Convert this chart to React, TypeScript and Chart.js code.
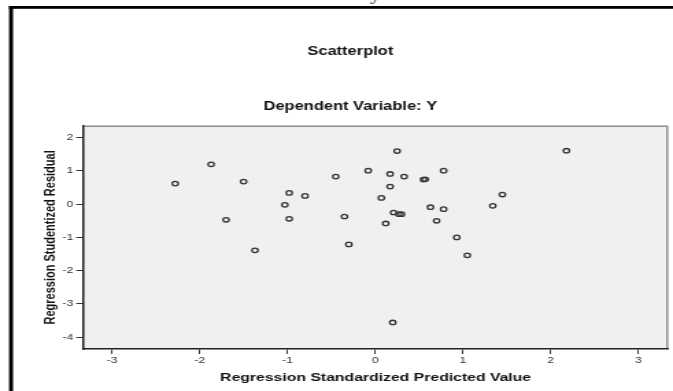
import React, { useEffect, useRef } from 'react';
import { Chart, registerables } from 'chart.js';

Chart.register(...registerables);

// ---- data ----
const predictedValues = [
  -2.28, -1.87, -1.5, -1.7, -1.37, -0.98, -0.8, -1.03, -0.98, -0.45, -0.35, -0.3,
  -0.08, 0.17, 0.17, 0.07, 0.12, 0.21, 0.25, 0.2, 0.33, 0.55, 0.57, 0.78, 0.27,
  0.3, 0.63, 0.78, 0.7, 0.93, 1.05, 1.34, 1.45, 2.18,
];
const residualValues = [
  0.62, 1.2, 0.68, -0.47, -1.39, 0.34, 0.25, -0.02, -0.44, 0.83, -0.37, -1.21,
  1.01, 0.91, 0.53, 0.19, -0.58, -0.25, 1.6, -3.56, 0.83, 0.74, 0.75, 1.01, -0.3,
  -0.3, -0.09, -0.15, -0.5, -1.0, -1.54, -0.05, 0.29, 1.61,
];
const xTicks = [-3, -2, -1, 0, 1, 2, 3];
const yTicks = [-4, -3, -2, -1, 0, 1, 2];
const headerText = 'Heteroscedasticity Test Results';
const titleText = 'Scatterplot';
const subtitleText = 'Dependent Variable: Y';
const xTitle = 'Regression Standardized Predicted Value';
const yTitle = 'Regression Studentized Residual';

// ---- layout ----
const W = 491; // internal width, stretched horizontally to 673 css px
const H = 391;
const FONT = '"Liberation Sans", Arial, sans-serif';

const framePlugin = {
  id: 'spssFrame',
  beforeDraw(chart: any) {
    const { ctx, chartArea: a } = chart;
    ctx.save();
    ctx.fillStyle = '#f0f0f0';
    ctx.fillRect(a.left, a.top, a.right - a.left, a.bottom - a.top);
    ctx.strokeStyle = '#8c8c8c';
    ctx.lineWidth = 1.4;
    ctx.beginPath();
    ctx.moveTo(a.left, a.top + 0.5);
    ctx.lineTo(a.right - 0.7, a.top + 0.5);
    ctx.lineTo(a.right - 0.7, a.bottom);
    ctx.stroke();
    // outer black frame
    ctx.fillStyle = '#000';
    ctx.fillRect(6.6, 6, W - 6.6, 2.8);
    ctx.fillRect(6.6, 6, 2.9, H - 6);
    // cut-off header above the frame (only its lowest pixels are visible)
    ctx.font = 'bold 16px "Liberation Serif", serif';
    ctx.textAlign = 'center';
    ctx.textBaseline = 'alphabetic';
    ctx.fillStyle = '#555';
    ctx.fillText(headerText, 258, -0.5);
    ctx.restore();
  },
};

export default function App() {
  const ref = useRef<HTMLCanvasElement | null>(null);

  useEffect(() => {
    if (!ref.current) return;
    const points = predictedValues.map((x, i) => ({ x, y: residualValues[i] }));
    const chart = new Chart(ref.current, {
      type: 'scatter',
      data: {
        datasets: [
          {
            data: points,
            pointRadius: 2.2,
            pointBorderWidth: 1.3,
            borderColor: '#333',
            backgroundColor: 'rgba(0,0,0,0)',
            pointHoverRadius: 2.2,
          },
        ],
      },
      options: {
        responsive: false,
        animation: false,
        devicePixelRatio: 1,
        events: [],
        layout: { padding: { left: 22.4, right: 2.2, top: 0, bottom: 0 } },
        plugins: {
          legend: { display: false },
          tooltip: { enabled: false },
          title: {
            display: true,
            text: titleText,
            color: '#111',
            font: { family: FONT, size: 12, weight: 'bold' },
            padding: { top: 44.8, bottom: 0 },
          },
          subtitle: {
            display: true,
            text: subtitleText,
            color: '#111',
            font: { family: FONT, size: 12, weight: 'bold' },
            padding: { top: 39.8, bottom: 12.4 },
          },
        },
        scales: {
          x: {
            type: 'linear',
            min: -3.33,
            max: 3.34,
            bounds: 'data',
            afterBuildTicks: (s: any) => {
              s.ticks = xTicks.map((v) => ({ value: v }));
            },
            afterFit: (s: any) => {
              s.height = 42;
            },
            grid: { drawOnChartArea: false, drawTicks: true, tickLength: 5, color: '#333', lineWidth: 1 },
            border: { display: true, color: '#222', width: 1.5 },
            ticks: {
              font: { family: FONT, size: 9 },
              color: '#333',
              padding: 1,
              maxRotation: 0,
              autoSkip: false,
              callback: (v: any) => String(v),
            },
            title: {
              display: true,
              text: xTitle,
              color: '#111',
              font: { family: FONT, size: 11.5, weight: 'bold' },
              padding: { top: 0, bottom: 6.1 },
            },
          },
          y: {
            type: 'linear',
            min: -4.36,
            max: 2.36,
            bounds: 'data',
            afterBuildTicks: (s: any) => {
              s.ticks = yTicks.map((v) => ({ value: v }));
            },
            afterFit: (s: any) => {
              s.width = 38.2;
            },
            grid: { drawOnChartArea: false, drawTicks: true, tickLength: 5, color: '#333', lineWidth: 1 },
            border: { display: true, color: '#222', width: 1.5 },
            ticks: {
              font: { family: FONT, size: 9 },
              color: '#333',
              padding: 2,
              autoSkip: false,
              callback: (v: any) => String(v),
            },
            title: {
              display: true,
              text: yTitle,
              color: '#111',
              font: { family: FONT, size: 11, weight: 'bold' },
              padding: { top: 8.2, bottom: 0 },
            },
          },
        },
      },
      plugins: [framePlugin],
    } as any);
    return () => chart.destroy();
  }, []);

  return (
    <canvas
      ref={ref}
      width={W}
      height={H}
      style={{ position: 'fixed', left: 0, top: 0, width: '673px', height: '391px' }}
    />
  );
}
